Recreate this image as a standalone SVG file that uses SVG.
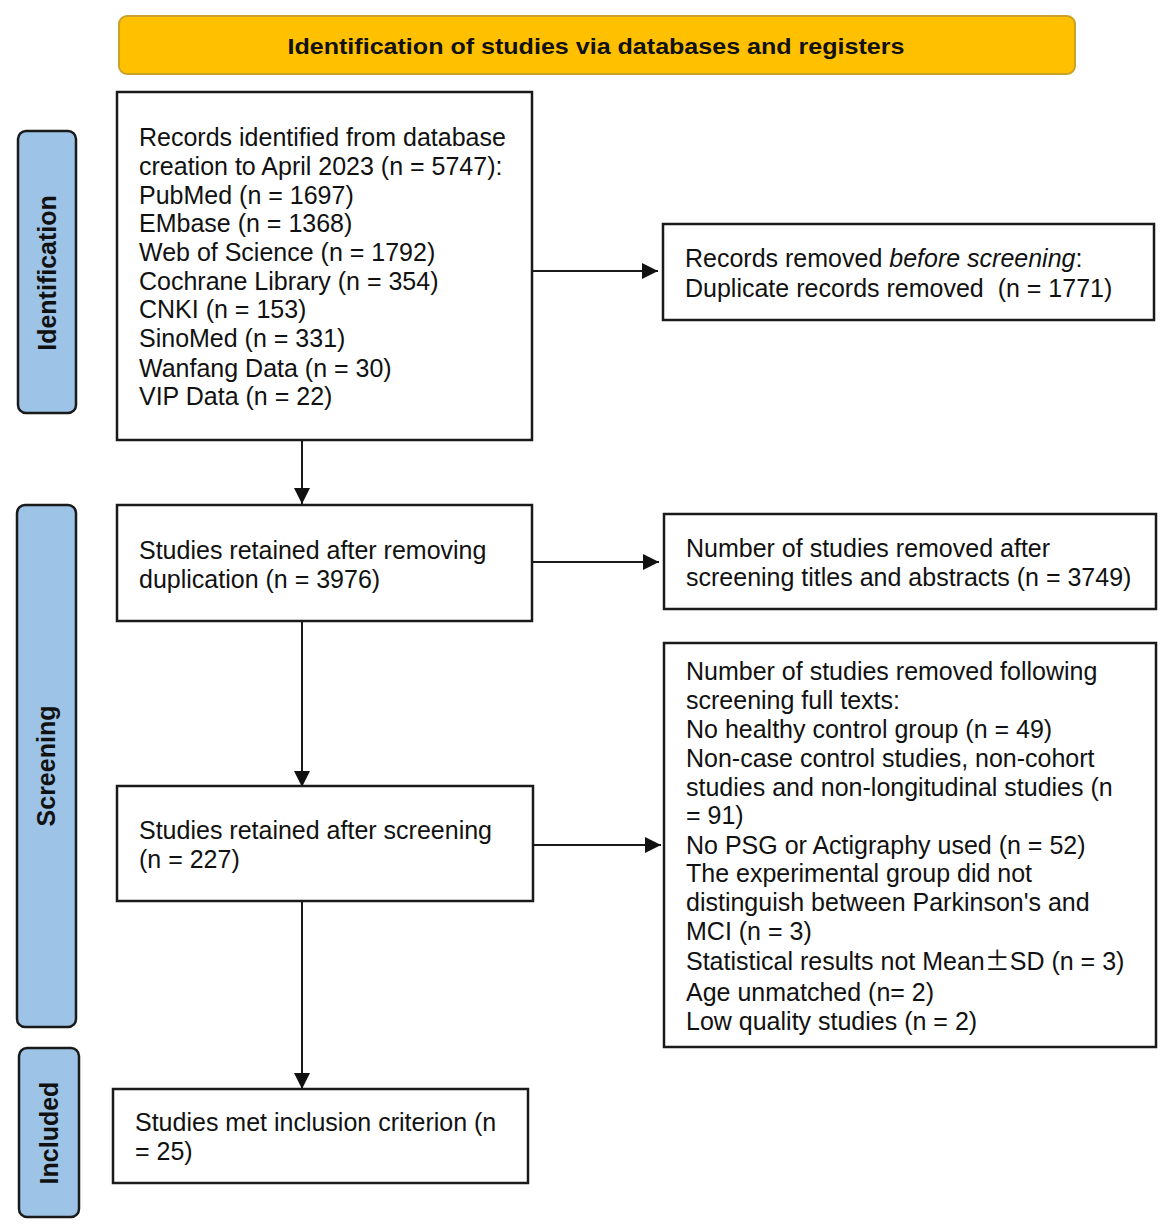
<svg xmlns="http://www.w3.org/2000/svg" width="1170" height="1232" viewBox="0 0 1170 1232">
<defs>
<style>
.box{fill:#fff;stroke:#1a1a1a;stroke-width:2.5}
.side{fill:#9DC3E6;stroke:#1a1a1a;stroke-width:2.5}
.t{font-family:"Liberation Sans",Arial,sans-serif;font-size:25px;fill:#111}
.s{font-family:"Liberation Sans",Arial,sans-serif;font-size:25px;font-weight:bold;fill:#111}
.c{stroke:#1a1a1a;stroke-width:2;fill:none;marker-end:url(#ahb)}
</style>
<marker id="ahb" viewBox="0 0 16 16" refX="16" refY="8" markerWidth="16" markerHeight="16" orient="auto" markerUnits="userSpaceOnUse">
<path d="M0,0 L16,8 L0,16 Z" fill="#111"/>
</marker>
</defs>
<rect width="1170" height="1232" fill="#fff"/>

<g id="header">
<rect x="119" y="16" width="956" height="58" rx="8" fill="#FFC000" stroke="#C9A227" stroke-width="2"/>
<text x="596" y="54" text-anchor="middle" font-family="'Liberation Sans',Arial,sans-serif" font-size="22" font-weight="bold" fill="#111" textLength="617" lengthAdjust="spacingAndGlyphs">Identification of studies via databases and registers</text>
</g>

<g id="side-identification">
<rect class="side" x="18" y="131" width="58" height="282" rx="8"/>
<text class="s" transform="translate(56,273) rotate(-90)" text-anchor="middle">Identification</text>
</g>
<g id="side-screening">
<rect class="side" x="17" y="505" width="59" height="522" rx="8"/>
<text class="s" transform="translate(55,766) rotate(-90)" text-anchor="middle">Screening</text>
</g>
<g id="side-included">
<rect class="side" x="19" y="1048" width="60" height="169" rx="8"/>
<text class="s" transform="translate(58,1133) rotate(-90)" text-anchor="middle">Included</text>
</g>

<g id="connectors">
<line class="c" x1="532" y1="271" x2="658" y2="271"/>
<line class="c" x1="302" y1="440" x2="302" y2="504"/>
<line class="c" x1="532" y1="562" x2="659" y2="562"/>
<line class="c" x1="302" y1="621" x2="302" y2="787"/>
<line class="c" x1="533" y1="845" x2="661" y2="845"/>
<line class="c" x1="302" y1="901" x2="302" y2="1089"/>
</g>

<g id="records-identified">
<rect class="box" x="117" y="92" width="415" height="348"/>
<text class="t" x="139" y="146">Records identified from database</text>
<text class="t" x="139" y="175">creation to April 2023 (n = 5747):</text>
<text class="t" x="139" y="204">PubMed (n = 1697)</text>
<text class="t" x="139" y="232">EMbase (n = 1368)</text>
<text class="t" x="139" y="261">Web of Science (n = 1792)</text>
<text class="t" x="139" y="290">Cochrane Library (n = 354)</text>
<text class="t" x="139" y="318">CNKI (n = 153)</text>
<text class="t" x="139" y="347">SinoMed (n = 331)</text>
<text class="t" x="139" y="377">Wanfang Data (n = 30)</text>
<text class="t" x="139" y="405">VIP Data (n = 22)</text>
</g>

<g id="records-removed">
<rect class="box" x="663" y="224" width="491" height="96"/>
<text class="t" x="685" y="267">Records removed <tspan font-style="italic">before screening</tspan>:</text>
<text class="t" x="685" y="297" xml:space="preserve">Duplicate records removed  (n = 1771)</text>
</g>

<g id="studies-retained-dup">
<rect class="box" x="117" y="505" width="415" height="116"/>
<text class="t" x="139" y="559">Studies retained after removing</text>
<text class="t" x="139" y="588">duplication (n = 3976)</text>
</g>

<g id="removed-titles">
<rect class="box" x="664" y="514" width="492" height="95"/>
<text class="t" x="686" y="557">Number of studies removed after</text>
<text class="t" x="686" y="586">screening titles and abstracts (n = 3749)</text>
</g>

<g id="studies-retained-screening">
<rect class="box" x="117" y="786" width="416" height="115"/>
<text class="t" x="139" y="839">Studies retained after screening</text>
<text class="t" x="139" y="868">(n = 227)</text>
</g>

<g id="removed-fulltext">
<rect class="box" x="664" y="643" width="492" height="404"/>
<text class="t" x="686" y="680">Number of studies removed following</text>
<text class="t" x="686" y="709">screening full texts:</text>
<text class="t" x="686" y="738">No healthy control group (n = 49)</text>
<text class="t" x="686" y="767">Non-case control studies, non-cohort</text>
<text class="t" x="686" y="796">studies and non-longitudinal studies (n</text>
<text class="t" x="686" y="824">= 91)</text>
<text class="t" x="686" y="854">No PSG or Actigraphy used (n = 52)</text>
<text class="t" x="686" y="882">The experimental group did not</text>
<text class="t" x="686" y="911">distinguish between Parkinson's and</text>
<text class="t" x="686" y="940">MCI (n = 3)</text>
<text class="t" x="686" y="970">Statistical results not Mean<tspan font-family="'Noto Sans CJK SC',sans-serif">±</tspan>SD (n = 3)</text>
<text class="t" x="686" y="1001">Age unmatched (n= 2)</text>
<text class="t" x="686" y="1030">Low quality studies (n = 2)</text>
</g>

<g id="included">
<rect class="box" x="113" y="1089" width="415" height="94"/>
<text class="t" x="135" y="1131">Studies met inclusion criterion (n</text>
<text class="t" x="135" y="1160">= 25)</text>
</g>
</svg>
